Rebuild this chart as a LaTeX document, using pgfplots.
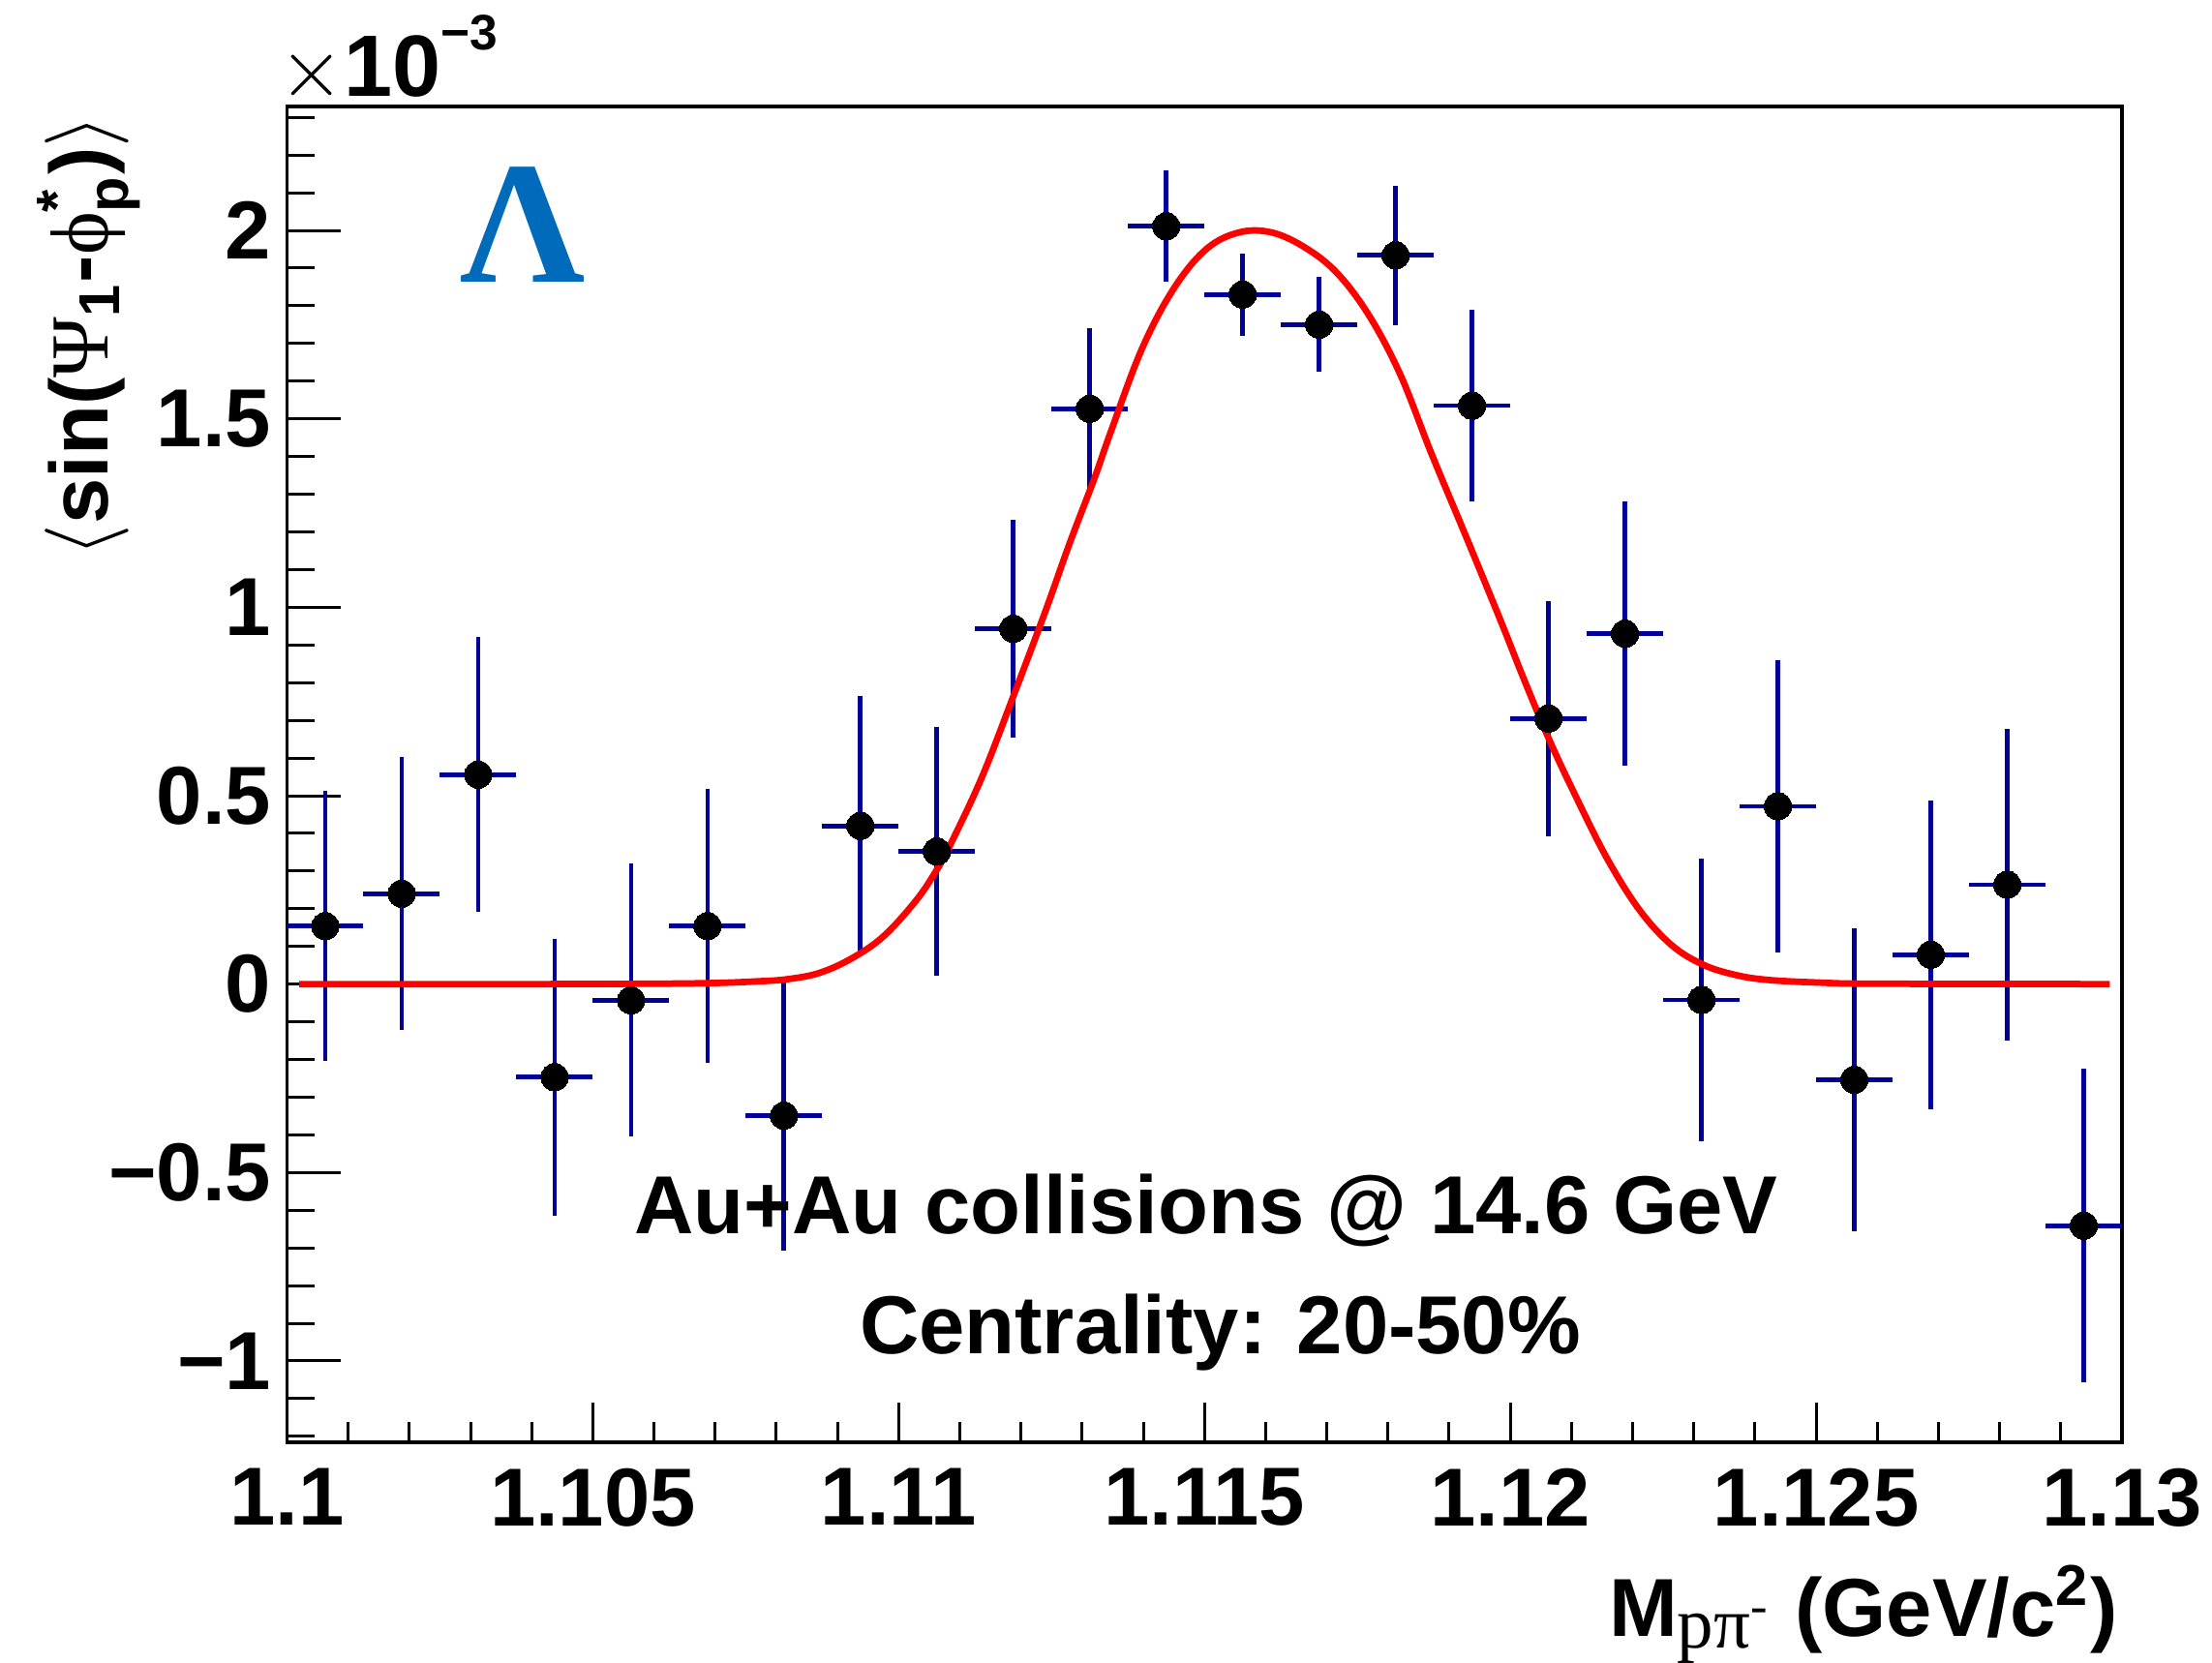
\documentclass[border=0pt]{standalone}
\usepackage{amsmath}
\usepackage{fontspec}
\setmainfont{Liberation Sans}
\newfontfamily\serif{Liberation Serif}
\usepackage{pgfplots}
\pgfplotsset{compat=1.18}
\usepackage{pgfplotstable}
\definecolor{errblue}{RGB}{0,0,153}
\definecolor{lamblue}{RGB}{0,107,186}
\newcommand\lab{\fontsize{17}{20}\selectfont\bfseries}

\pgfplotstableread{
x y ex ey
1.100625 0.154 0.000625 0.359
1.101875 0.240 0.000625 0.362
1.103125 0.556 0.000625 0.365
1.104375 -0.247 0.000625 0.367
1.105625 -0.043 0.000625 0.362
1.106875 0.154 0.000625 0.363
1.108125 -0.349 0.000625 0.359
1.109375 0.420 0.000625 0.344
1.110625 0.352 0.000625 0.330
1.111875 0.943 0.000625 0.290
1.113125 1.527 0.000625 0.215
1.114375 2.011 0.000625 0.148
1.115625 1.830 0.000625 0.109
1.116875 1.750 0.000625 0.126
1.118125 1.934 0.000625 0.185
1.119375 1.535 0.000625 0.254
1.120625 0.705 0.000625 0.312
1.121875 0.930 0.000625 0.350
1.123125 -0.042 0.000625 0.376
1.124375 0.472 0.000625 0.388
1.125625 -0.254 0.000625 0.401
1.126875 0.078 0.000625 0.409
1.128125 0.264 0.000625 0.413
1.129375 -0.641 0.000625 0.416
}\datatable

\pgfplotstableread{
x y
1.1002 0.000
1.1040 0.000
1.1060 0.001
1.1070 0.003
1.10765 0.007
1.10818 0.013
1.10871 0.030
1.10924 0.069
1.10976 0.128
1.11029 0.223
1.11061 0.300
1.11082 0.362
1.11135 0.545
1.11187 0.762
1.11240 0.990
1.11280 1.172
1.11320 1.342
1.11346 1.462
1.11398 1.687
1.11451 1.849
1.11504 1.952
1.11557 1.995
1.11609 1.995
1.11662 1.957
1.11715 1.890
1.11768 1.777
1.11820 1.618
1.11871 1.408
1.11927 1.190
1.11984 0.965
1.12021 0.814
1.12063 0.651
1.12105 0.505
1.12158 0.334
1.12211 0.197
1.12264 0.103
1.12316 0.051
1.12369 0.024
1.12422 0.011
1.12506 0.004
1.1260 0.001
1.1298 0.000
}\fittable

\begin{document}
\begin{tikzpicture}
\path[use as bounding box] (-59.3pt,-45.4pt) rectangle (397.7pt,298pt);
% axis for y ticks
\begin{axis}[
  at={(0,0)}, anchor=south west, scale only axis,
  width=379.1pt, height=276pt,
  xmin=1.1, xmax=1.13, ymin=-1.216, ymax=2.329,
  axis line style={line width=0.7pt},
  tick pos=left,
  xtick=\empty,
  ytick={-1,-0.5,0,0.5,1,1.5,2},
  yticklabels={−1,−0.5,0,0.5,1,1.5,2},
  minor ytick={-1.2,-1.1,-0.9,-0.8,-0.7,-0.6,-0.4,-0.3,-0.2,-0.1,0.1,0.2,0.3,0.4,0.6,0.7,0.8,0.9,1.1,1.2,1.3,1.4,1.6,1.7,1.8,1.9,2.1,2.2,2.3},
  major tick length=11pt, minor tick length=5.6pt,
  every tick/.style={line width=0.6pt, black},
  yticklabel style={font=\lab, inner sep=0pt, anchor=east},
  yticklabel shift=3.1pt,
  scaled ticks=false,
]
\end{axis}
% main axis
\begin{axis}[
  name=ax,
  at={(0,0)}, anchor=south west, scale only axis,
  width=379.1pt, height=276pt,
  xmin=1.1, xmax=1.13, ymin=-1.216, ymax=2.329,
  axis line style={line width=0.7pt},
  tick pos=left,
  ytick=\empty,
  xtick={1.1,1.105,1.11,1.115,1.12,1.125,1.13},
  xticklabels={1.1,1.105,1.11,1.115,1.12,1.125,1.13},
  minor xtick={1.101,1.102,1.103,1.104,1.106,1.107,1.108,1.109,1.111,1.112,1.113,1.114,1.116,1.117,1.118,1.119,1.121,1.122,1.123,1.124,1.126,1.127,1.128,1.129},
  major tick length=8.2pt, minor tick length=4.2pt,
  every tick/.style={line width=0.6pt, black},
  xticklabel style={font=\lab, inner sep=0pt, anchor=north},
  xticklabel shift=5.2pt,
  scaled ticks=false,
]
\addplot[only marks, mark=*, mark size=2.83pt,
  mark options={fill=black, draw=black, line width=0pt},
  error bars/.cd, x dir=both, x explicit, y dir=both, y explicit,
  error mark=none,
  error bar style={line width=0.95pt, color=errblue}]
  table[x=x, y=y, x error=ex, y error=ey]{\datatable};
\addplot[red, line width=1.35pt, smooth, tension=0.6, no markers] table[x=x,y=y]{\fittable};
\end{axis}
% texts
\node[anchor=base west, inner sep=0pt] at ([xshift=-1.8pt,yshift=2pt]ax.north west)
  {\fontsize{18}{20}\selectfont$\times$\bfseries 10\raisebox{9.6pt}{\fontsize{10.3}{12}\selectfont −3}};
\node[anchor=base east, inner sep=0pt, rotate=90] at ([xshift=-37.1pt,yshift=-1.5pt]ax.north west)
  {\lab $\langle$sin({\serif\mdseries Ψ}$_{\text{1}}$-{\serif\mdseries ϕ}$^{\text{*}}_{\text{p}}$)$\rangle$};
\node[anchor=base east, inner sep=0pt] at ([xshift=-0.7pt,yshift=-40pt]ax.south east)
  {\lab M\textsubscript{\fontsize{15}{16}\selectfont\serif\mdseries pπ\textsuperscript{-}} (GeV/c\textsuperscript{2})};
\node[anchor=base, inner sep=0pt, text=lamblue] at ([xshift=48.8pt,yshift=-36.4pt]ax.north west)
  {\fontsize{36}{40}\selectfont\serif\bfseries Λ};
\node[anchor=base, inner sep=0pt] at ([xshift=189.9pt,yshift=43.2pt]ax.south west)
  {\lab Au+Au collisions @ 14.6 GeV};
\node[anchor=base, inner sep=0pt] at ([xshift=192.8pt,yshift=18.4pt]ax.south west)
  {\lab Centrality: 20-50\%};
\end{tikzpicture}
\end{document}
